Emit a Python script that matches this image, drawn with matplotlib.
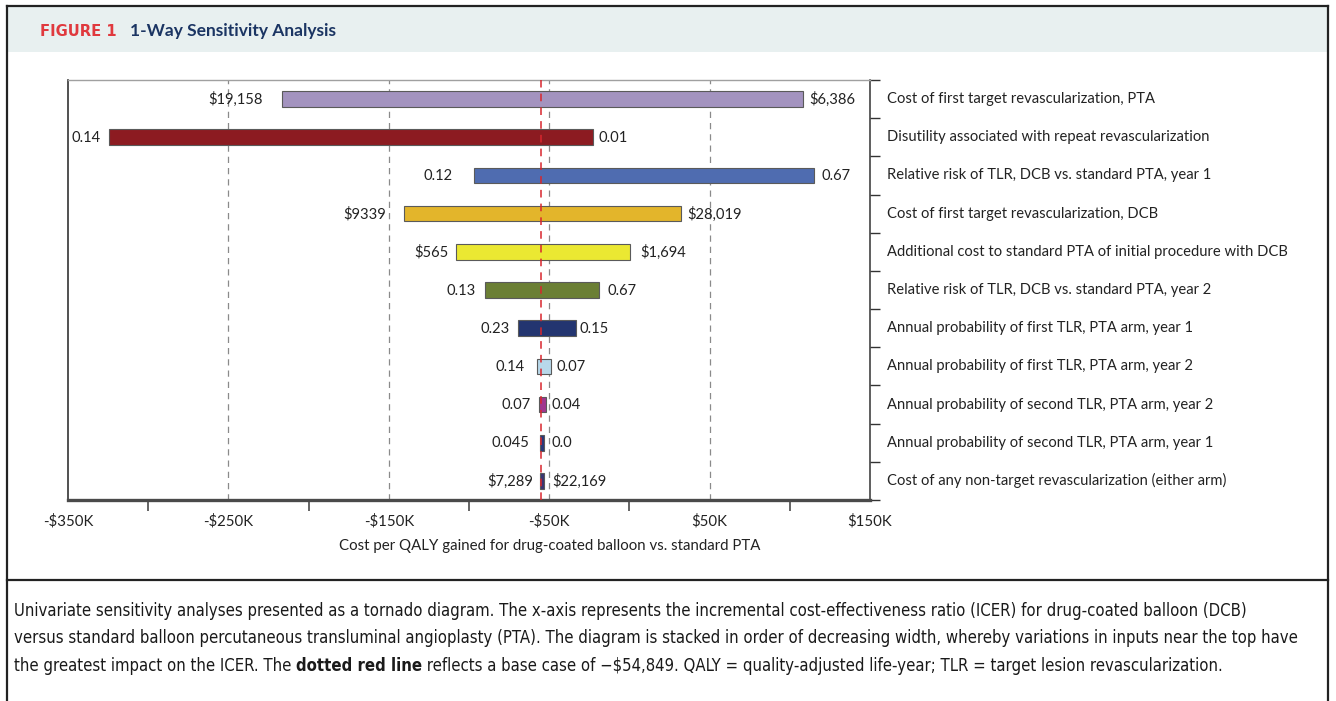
import matplotlib
matplotlib.use("Agg")
import matplotlib.pyplot as plt
from matplotlib.patches import Rectangle
from matplotlib.lines import Line2D

# tornado rows, top to bottom (values in $K of ICER)
params = [
    "Cost of first target revascularization, PTA",
    "Disutility associated with repeat revascularization",
    "Relative risk of TLR, DCB vs. standard PTA, year 1",
    "Cost of first target revascularization, DCB",
    "Additional cost to standard PTA of initial procedure with DCB",
    "Relative risk of TLR, DCB vs. standard PTA, year 2",
    "Annual probability of first TLR, PTA arm, year 1",
    "Annual probability of first TLR, PTA arm, year 2",
    "Annual probability of second TLR, PTA arm, year 2",
    "Annual probability of second TLR, PTA arm, year 1",
    "Cost of any non-target revascularization (either arm)",
]
low_end = [-216.5, -324.5, -97.0, -140.5, -108.0, -90.0, -69.3, -57.9, -56.2, -56.0, -55.6]
high_end = [108.5, -22.5, 115.0, 32.0, 0.3, -19.0, -33.4, -49.1, -52.2, -53.1, -53.1]
low_labels = [r"\$19,158", "0.14", "0.12", r"\$9339", r"\$565", "0.13", "0.23", "0.14", "0.07", "0.045", r"\$7,289"]
high_labels = [r"\$6,386", "0.01", "0.67", r"\$28,019", r"\$1,694", "0.67", "0.15", "0.07", "0.04", "0.0", r"\$22,169"]
bar_colors = ["#a393bf", "#8c1b21", "#4f6cb0", "#e3b52b", "#ebe832", "#6b7f34",
              "#233570", "#b8d8ea", "#a0368f", "#28387a", "#3a3672"]
base_case = -54.849

xtick_vals = [-350, -250, -150, -50, 50, 150]
xtick_labels = [r"-\$350K", r"-\$250K", r"-\$150K", r"-\$50K", r"\$50K", r"\$150K"]
minor_ticks = [-300, -200, -100, 0, 100]
grid_vals = [-250, -150, -50, 50]

# label gaps from the bar ends, in pixels (hand placed in the original)
gap_left = [19, 8, 21, 18, 8, 9, 8, 12, 9, 10, 7]
gap_right = [6, 5, 8, 7, 10, 9, 4, 6, 6, 7, 8]

W, H = 1336, 701
FONT = ["Lato", "DejaVu Sans"]
plt.rcParams['font.family'] = FONT

def fx(x):
    return x / W

def fy(y):
    return 1 - y / H

fig = plt.figure(figsize=(W / 100, H / 100), dpi=100)
renderer = fig.canvas.get_renderer()

# frame, header band, caption separator
fig.patches.append(Rectangle((fx(7), fy(52)), fx(1328) - fx(7), fy(6) - fy(52),
                             transform=fig.transFigure, facecolor="#e8f0f0", edgecolor="none"))
for (x0, y0, x1, y1) in [(7, 6, 7, 701), (7, 6, 1328, 6), (1328, 6, 1328, 701), (7, 580, 1328, 580)]:
    fig.add_artist(Line2D([fx(x0), fx(x1)], [fy(y0), fy(y1)], transform=fig.transFigure,
                          color="#222222", lw=1.6))

fig.text(fx(40), fy(31), "FIGURE 1", color="#e0393e", fontsize=10.6, fontweight="bold",
         va="center", ha="left", family=["DejaVu Sans"])
fig.text(fx(130), fy(31), "1-Way Sensitivity Analysis", color="#1b3563", fontsize=12.5,
         fontweight="bold", va="center", ha="left")

ax = fig.add_axes([fx(68), fy(500), fx(870) - fx(68), fy(80) - fy(500)])
ax.set_xlim(-350, 150)
ax.set_ylim(len(params), 0)

for v in grid_vals:
    ax.axvline(v, color="#8a8a8a", lw=0.9, ls=(0, (5, 4)), zorder=1)

ys = [i + 0.5 for i in range(len(params))]
widths = [h - l for l, h in zip(low_end, high_end)]
ax.barh(ys, widths, left=low_end, height=0.41, color=bar_colors,
        edgecolor="#5a5a5a", linewidth=0.8, zorder=2)

ax.axvline(base_case, color="#d8262d", lw=1.1, ls=(0, (5, 4)), zorder=3)

lab_size = 10.6
for i, y in enumerate(ys):
    ax.annotate(low_labels[i], (low_end[i], y), xytext=(-gap_left[i] * 0.72, -0.5),
                textcoords="offset points", ha="right", va="center",
                fontsize=lab_size, color="#222222")
    ax.annotate(high_labels[i], (high_end[i], y), xytext=(gap_right[i] * 0.72, -0.5),
                textcoords="offset points", ha="left", va="center",
                fontsize=lab_size, color="#222222")
    ax.text(1 + 17 / 802, y, params[i], transform=ax.get_yaxis_transform(),
            ha="left", va="center", fontsize=10.6, color="#222222")

# spines
ax.spines["top"].set_color("#a0a0a0")
ax.spines["top"].set_linewidth(1.0)
ax.spines["left"].set_color("#333333")
ax.spines["left"].set_linewidth(1.2)
ax.spines["right"].set_color("#333333")
ax.spines["right"].set_linewidth(1.1)
ax.spines["bottom"].set_color("#4a4a4a")
ax.spines["bottom"].set_linewidth(2.4)

# x axis: labels between the tick marks
ax.set_xticks(xtick_vals)
ax.set_xticklabels(xtick_labels, fontsize=10.8, color="#222222")
ax.set_xticks(minor_ticks, minor=True)
ax.tick_params(axis="x", which="major", length=0, pad=10)
ax.tick_params(axis="x", which="minor", length=8, width=1.2, color="#4a4a4a", direction="out")

# y axis: ticks on the right at row boundaries
ax.yaxis.tick_right()
ax.set_yticks(range(len(params) + 1))
ax.set_yticklabels([])
ax.tick_params(axis="y", which="major", length=7, width=1.0, color="#333333", direction="out")

fig.text(fx(550), fy(546), "Cost per QALY gained for drug-coated balloon vs. standard PTA",
         ha="center", va="center", fontsize=10.85, color="#222222")

# caption (condensed face), size fitted to the line lengths of the original
cap_lines = [
    "Univariate sensitivity analyses presented as a tornado diagram. The x-axis represents "
    "the incremental cost-effectiveness ratio (ICER) for drug-coated balloon (DCB)",
    "versus standard balloon percutaneous transluminal angioplasty (PTA). The diagram is "
    "stacked in order of decreasing width, whereby variations in inputs near the top have",
]
cap_ends = [1282, 1298]
cap_kw = dict(color="#1a1a1a", va="center", ha="left", family=["DejaVu Sans"],
              fontstretch="condensed")
sizes = []
for line, end in zip(cap_lines, cap_ends):
    probe = fig.text(0, 0, line, fontsize=13, **cap_kw)
    sizes.append(13 * (end - 14) / probe.get_window_extent(renderer=renderer).width)
    probe.remove()
cap_size = min(sizes)

for line, yy in zip(cap_lines, [611, 638]):
    fig.text(fx(14), fy(yy), line, fontsize=cap_size, **cap_kw)

parts = [("the greatest impact on the ICER. The ", "normal"),
         ("dotted red line", "bold"),
         (" reflects a base case of \u2212\\$54,849. QALY = quality-adjusted life-year; "
          "TLR = target lesion revascularization.", "normal")]
x = fx(14)
for txt, wt in parts:
    t = fig.text(x, fy(666), txt, fontweight=wt, fontsize=cap_size, **cap_kw)
    x += t.get_window_extent(renderer=renderer).width / W

fig.savefig("out.png", dpi=100)
